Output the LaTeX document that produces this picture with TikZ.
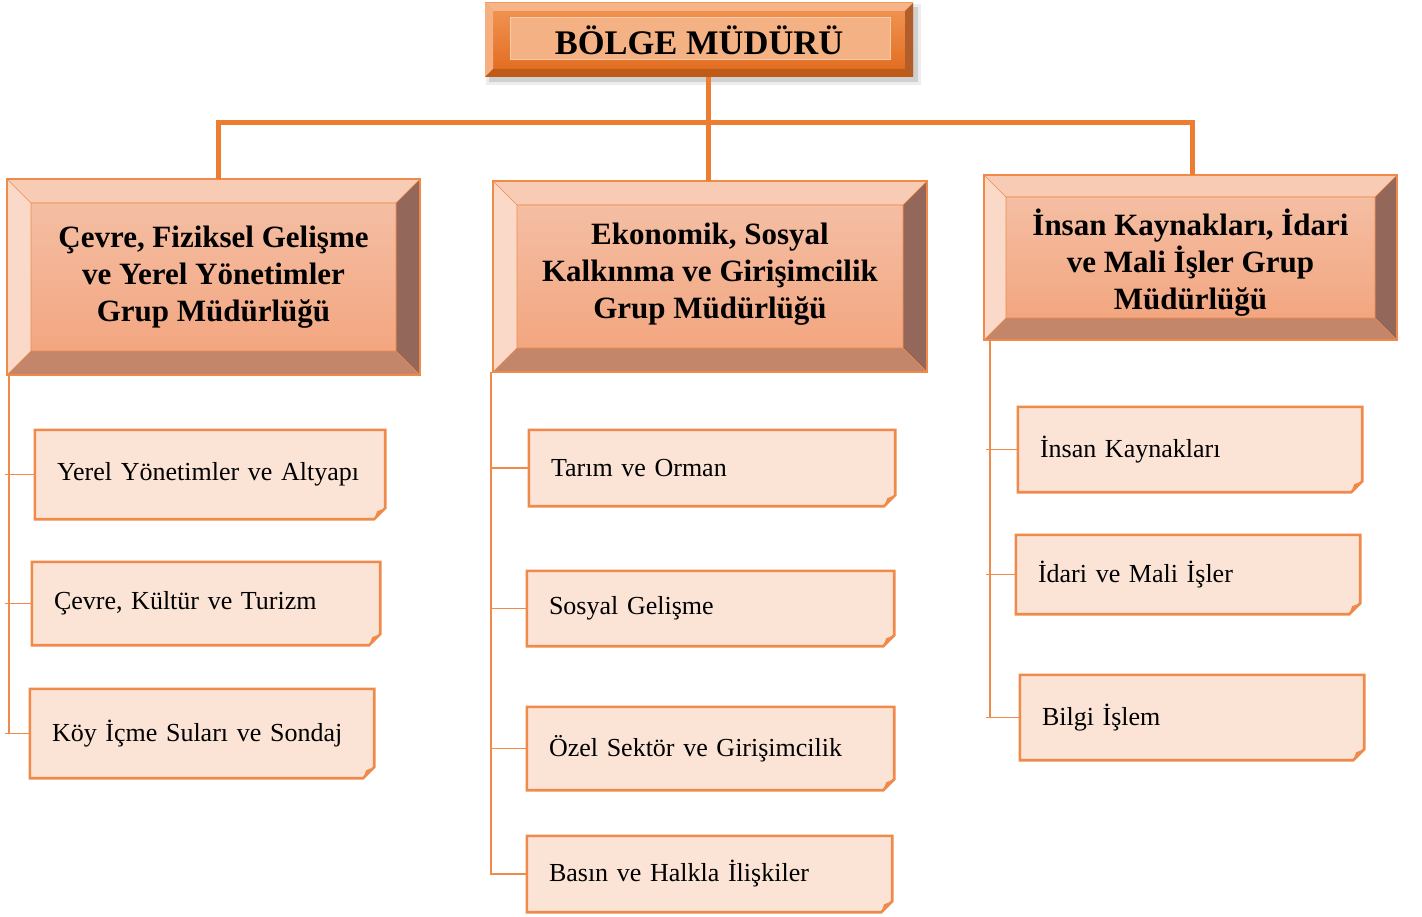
\documentclass[tikz,border=0pt]{standalone}
\usepackage{fontspec}
\setmainfont{Liberation Serif}
\usetikzlibrary{backgrounds,calc}
\definecolor{lineor}{HTML}{ED7D31}
\definecolor{thinor}{HTML}{F08A4B}
\definecolor{cfill}{HTML}{FBE3D6}
\definecolor{gtopc}{HTML}{F8CBB4}
\definecolor{gleftc}{HTML}{FAD9C9}
\definecolor{grightc}{HTML}{93685A}
\definecolor{gbotc}{HTML}{C4866A}
\definecolor{gfacet}{HTML}{F4BEA3}
\definecolor{gfaceb}{HTML}{F3A680}
\definecolor{tframet}{HTML}{F29656}
\definecolor{tframeb}{HTML}{E06A1C}
\definecolor{tbevt}{HTML}{F6B489}
\definecolor{tbevr}{HTML}{B25E2A}
\definecolor{tbevb}{HTML}{BF5B18}
\definecolor{tinner}{HTML}{F4B183}
\definecolor{tinnerb}{HTML}{F9CBA8}
\tikzset{
  tline/.style={draw=lineor, line width=5pt},
  cline/.style={draw=thinor, line width=1.8pt},
  cbord/.style={draw=thinor, fill=cfill, line width=2.6pt, line join=miter},
  cfoldc/.style={fill=thinor},
  ctext/.style={inner xsep=22pt, inner ysep=0pt, align=left, font=\fontsize{26}{30}\selectfont, anchor=center},
  gtext/.style={inner sep=0pt, align=center, font=\bfseries\fontsize{31}{37}\selectfont, anchor=center},
  ttext/.style={inner sep=0pt, font=\bfseries\fontsize{34.5}{40}\selectfont, anchor=center},
}
\newcommand\gbox[8][]{%
  \fill[gtopc] (#3,#4) -- (#5,#4) -- (#5-#7,#4+#7) -- (#3+#7,#4+#7) -- cycle;
  \fill[gleftc] (#3,#4) -- (#3+#7,#4+#7) -- (#3+#7,#6-#7) -- (#3,#6) -- cycle;
  \fill[grightc] (#5,#4) -- (#5,#6) -- (#5-#7,#6-#7) -- (#5-#7,#4+#7) -- cycle;
  \fill[gbotc] (#3,#6) -- (#5,#6) -- (#5-#7,#6-#7) -- (#3+#7,#6-#7) -- cycle;
  \shade[top color=gfacet, bottom color=gfaceb] (#3+#7,#4+#7) rectangle (#5-#7,#6-#7);
  \draw[thinor, line width=0.6pt] (#3+#7,#4+#7) rectangle (#5-#7,#6-#7)
     (#3,#4) -- (#3+#7,#4+#7) (#5,#4) -- (#5-#7,#4+#7) (#3,#6) -- (#3+#7,#6-#7) (#5,#6) -- (#5-#7,#6-#7);
  \draw[thinor, line width=1.6pt] (#3,#4) rectangle (#5,#6);
  \pgfmathsetmacro\gw{#5-#3}\pgfmathsetmacro\gh{#6-#4}%
  \pgfmathsetmacro\gx{(#3+#5)/2}\pgfmathsetmacro\gy{(#4+#6)/2}%
  \node[gtext, minimum width=\gw pt, minimum height=\gh pt] (#2) at (\gx,\gy) {};
  \node[gtext, #1] (#2t) at (#2) {#8};
}
\newcommand\cbox[6]{%
  \pgfmathsetmacro\ctw{#4-#2-44}\pgfmathsetmacro\chh{#5-#3}%
  \pgfmathsetmacro\cx{(#2+#4)/2}\pgfmathsetmacro\cy{(#3+#5)/2}%
  \node[ctext, text width=\ctw pt, minimum height=\chh pt] (#1) at (\cx,\cy) {#6};
  \begin{scope}[on background layer]
    \filldraw[cbord] (#1.north west) -- (#1.north east) -- ([yshift=11pt]#1.south east)
      -- ([xshift=-11pt]#1.south east) -- (#1.south west) -- cycle;
    \fill[cfoldc] ([yshift=11pt]#1.south east) -- ([xshift=-11pt]#1.south east)
      -- ([xshift=-8pt,yshift=8pt]#1.south east) -- cycle;
  \end{scope}
}
\begin{document}
\begin{tikzpicture}[x=1pt,y=-1pt]
\useasboundingbox (0,0) rectangle (1422,917);
% top box
\fill[black, opacity=0.12] (489,7) rectangle (918,82);
\fill[black, opacity=0.07] (486,4) rectangle (921,85);
\shade[top color=tframet, bottom color=tframeb] (485,3) rectangle (913,77);
\fill[tbevt] (485,3) -- (913,3) -- (905,11) -- (493,11) -- cycle;
\fill[tbevt!85!tframet] (485,3) -- (493,11) -- (493,69) -- (485,77) -- cycle;
\fill[tbevr] (913,3) -- (913,77) -- (905,69) -- (905,11) -- cycle;
\fill[tbevb] (485,77) -- (913,77) -- (905,69) -- (493,69) -- cycle;
\filldraw[fill=tinner, draw=tinnerb, line width=1pt] (510,18) rectangle (890,60);
\node[ttext, minimum width=428pt, minimum height=74pt] (top) at (699,40) {BÖLGE MÜDÜRÜ};
% group boxes
\gbox{g1}{7}{179}{420}{375}{24}{Çevre, Fiziksel Gelişme\\ve Yerel Yönetimler\\Grup Müdürlüğü}
\gbox[yshift=2pt]{g2}{493}{181}{927}{372}{24}{Ekonomik, Sosyal\\Kalkınma ve Girişimcilik\\Grup Müdürlüğü}
\gbox[yshift=-5pt]{g3}{984}{175}{1397}{340}{22}{İnsan Kaynakları, İdari\\ve Mali İşler Grup\\Müdürlüğü}
% top connectors
\coordinate (j1) at (218,123);
\coordinate (j2) at (708,123);
\coordinate (j3) at (1192,123);
\draw[tline] (j2 |- top.south) -- (j2);
\draw[tline, line cap=rect] (j1) -- (j3);
\draw[tline] (j1) -- (j1 |- g1.north);
\draw[tline] (j2) -- (j2 |- g2.north);
\draw[tline] (j3) -- (j3 |- g3.north);
% children
\cbox{c11}{35}{430}{385}{519}{Yerel Yönetimler ve Altyapı}
\cbox{c12}{32}{562}{380}{645}{Çevre, Kültür ve Turizm}
\cbox{c13}{30}{689}{374}{778}{Köy İçme Suları ve Sondaj}
\cbox{c21}{529}{430}{895}{506}{Tarım ve Orman}
\cbox{c22}{527}{571}{894}{646}{Sosyal Gelişme}
\cbox{c23}{527}{707}{894}{790}{Özel Sektör ve Girişimcilik}
\cbox{c24}{527}{836}{892}{912}{Basın ve Halkla İlişkiler}
\cbox{c31}{1018}{407}{1362}{492}{İnsan Kaynakları}
\cbox{c32}{1016}{535}{1360}{614}{İdari ve Mali İşler}
\cbox{c33}{1020}{675}{1364}{760}{Bilgi İşlem}
% side connectors
\coordinate (t1) at (9,375);
\coordinate (t1e) at (5,0);
\draw[cline] (t1) -- (t1 |- c13.west);
\foreach \c in {c11,c12,c13} \draw[cline] (\c.west) -- (\c.west -| t1e);
\coordinate (t2) at (491,372);
\draw[cline] (t2) |- (c24.west);
\foreach \c in {c21,c22,c23} \draw[cline] (\c.west) -- (\c.west -| t2);
\coordinate (t3) at (990,340);
\coordinate (t3e) at (986,0);
\draw[cline] (t3) -- (t3 |- c33.west);
\foreach \c in {c31,c32,c33} \draw[cline] (\c.west) -- (\c.west -| t3e);
\end{tikzpicture}
\end{document}
